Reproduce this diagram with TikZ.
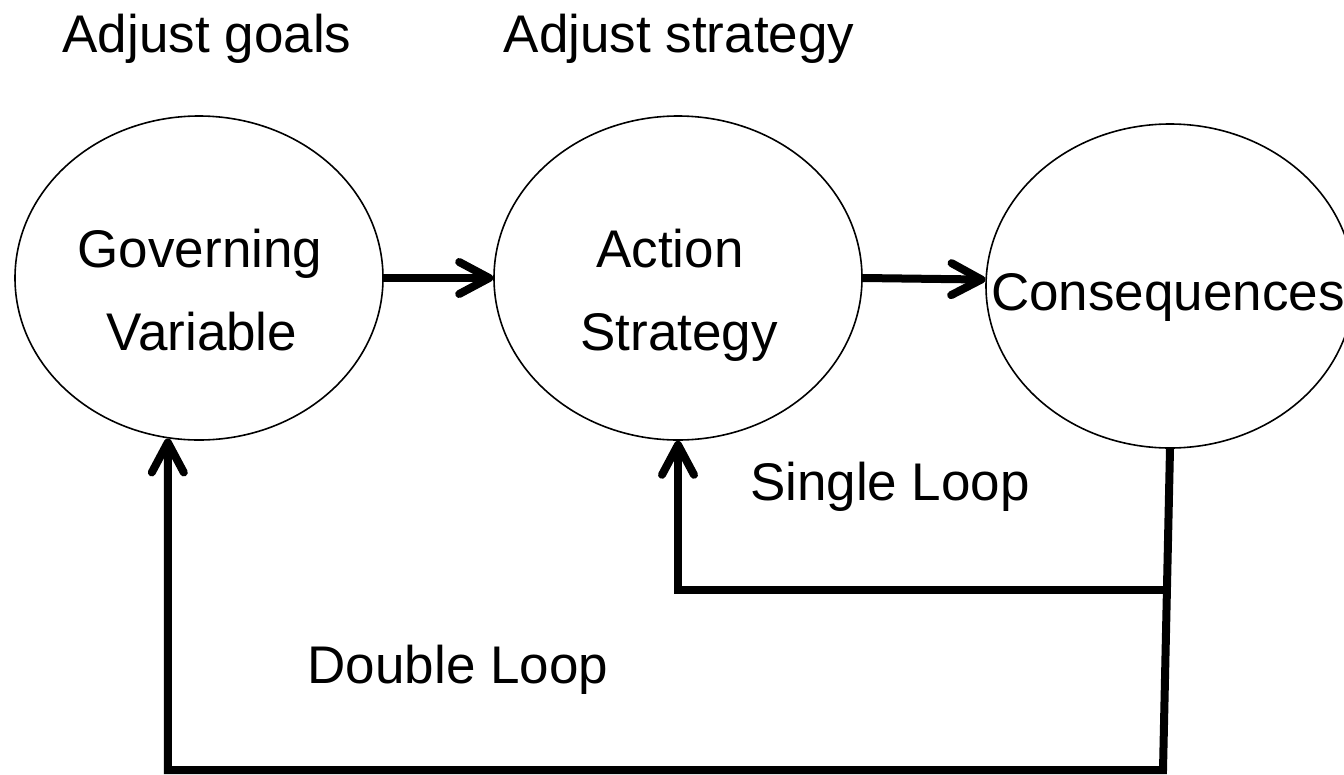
\documentclass[tikz,border=0pt]{standalone}
\usepackage{fontspec}
\setmainfont{Liberation Sans}
\usetikzlibrary{arrows.meta,shapes.geometric}
\begin{document}
\begin{tikzpicture}[x=1pt,y=-1pt,
  ell/.style={draw, ellipse, line width=1.6pt, minimum width=368pt, minimum height=324pt, inner sep=0pt},
  lbl/.style={font=\fontsize{53}{60}\selectfont, anchor=base, inner sep=0pt},
  arr/.style={line width=8pt, -{Straight Barb[length=30pt,width=32pt,round]}}]
\useasboundingbox (0,0) rectangle (1344,774);
\fill[white] (0,0) rectangle (1344,774);
\node[ell] (gv) at (199,278) {};
\node[ell] (as) at (678,278) {};
\node[ell] (cons) at (1170,286) {};
\node[lbl] (t1) at (207,52) {Adjust goals};
\node[lbl] (t2) at (679,52) {Adjust strategy};
\node[lbl] (g1) at (200,267) {Governing};
\node[lbl] (g2) at (202,350) {Variable};
\node[lbl] (a1) at (670,267) {Action};
\node[lbl] (a2) at (679,350) {Strategy};
\node[lbl] (c1) at (1168,310) {Consequences};
\node[lbl] (sl) at (890,500) {Single Loop};
\node[lbl] (dl) at (458,683) {Double Loop};
\coordinate (j1) at (1167,590);
\coordinate (j2) at (1163,770);
\draw[arr] (gv.east) -- (as.west);
\draw[arr] (as.east) -- (cons.178);
\draw[arr] (cons.south) -- (j2) -| (gv.-101);
\draw[arr] (j1) -| (as.south);
\end{tikzpicture}
\end{document}
